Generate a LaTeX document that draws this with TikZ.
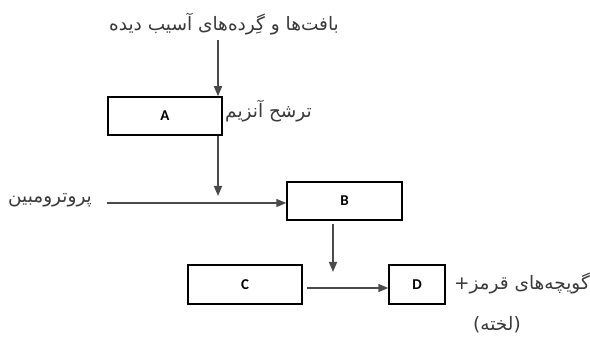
\documentclass[tikz,border=0pt]{standalone}
\usepackage{fontspec}
\usetikzlibrary{arrows.meta}
\TeXXeTstate=1
\newfontfamily\arabicfont[Script=Arabic]{DejaVu Sans}
\newfontfamily\labfont{Carlito}
\definecolor{txt}{HTML}{3A3A3A}
\definecolor{arr}{HTML}{4A4A4A}
\tikzset{
  boxnode/.style={draw=black, line width=1.5pt, fill=white, minimum height=38pt, inner sep=0pt, font=\labfont\bfseries\fontsize{15}{16}\selectfont},
  fatext/.style={text=txt, inner sep=0pt, font=\arabicfont\fontsize{18.5}{21}\selectfont},
  arrline/.style={draw=arr, line width=1.6pt, -{Triangle[length=10pt,width=8pt]}}
}
\begin{document}
\begin{tikzpicture}[x=1pt,y=-1pt]
\useasboundingbox[fill=white] (0,0) rectangle (590,342);
% texts
\node[fatext] (src) at (224,24) {\beginR بافت‌ها و گِرده‌های آسیب دیده\endR};
\node[fatext, anchor=west] (enz) at (225,111) {\beginR ترشح آنزیم\endR};
\node[fatext] (prot) at (50,200) {\beginR پروترومبین\endR};
\node[fatext, anchor=east] (rbc) at (590,283) {\beginR گویچه‌های قرمز+\endR};
\node[fatext] (clot) at (497,325) {\beginR (لخته)\endR};
% boxes
\node[boxnode, minimum width=114pt] (A) at (165,116) {A};
\node[boxnode, minimum width=115pt] (B) at (344.5,201) {B};
\node[boxnode, minimum width=114pt, minimum height=39pt] (C) at (245,284.5) {C};
\node[boxnode, minimum width=56pt, minimum height=39pt] (D) at (417,284.5) {D};
% coordinates
\coordinate (a1) at (218,40);
\coordinate (j1) at (218,196);
\coordinate (p1) at (107,203);
\coordinate (j2) at (333,272);
\coordinate (h2) at (307,288);
% connectors
\draw[arrline] (a1) -- (A.north -| a1);
\draw[arrline] (A.south -| a1) -- (j1);
\draw[arrline] (p1) -- (B.west |- p1);
\draw[arrline] ([yshift=-3pt]B.south -| j2) -- (j2);
\draw[arrline] (h2) -- (D.west |- h2);
\end{tikzpicture}
\end{document}
